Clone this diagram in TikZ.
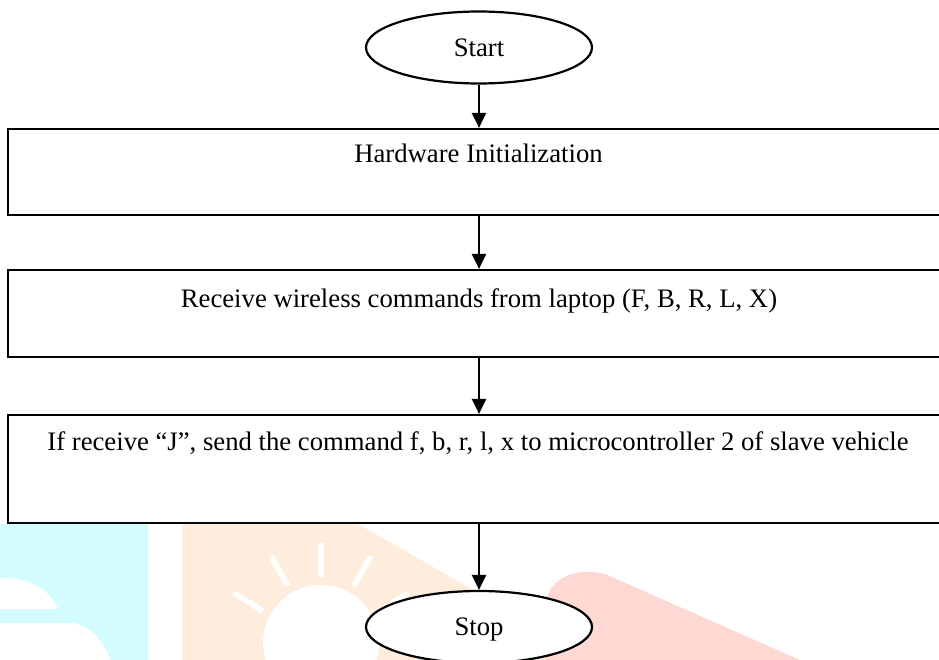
\documentclass[tikz,border=0pt]{standalone}
\usepackage{fontspec}
\setmainfont{Liberation Serif}
\usetikzlibrary{shapes.geometric,arrows.meta}
\definecolor{wmcyan}{RGB}{210,252,253}
\definecolor{wmorange}{RGB}{254,237,220}
\definecolor{wmred}{RGB}{254,217,211}
\begin{document}
\begin{tikzpicture}[x=1pt,y=-1pt,
  every node/.style={font=\fontsize{26.7}{30}\selectfont},
  term/.style={draw, ellipse, fill=white, line width=2.2pt, minimum width=226pt, minimum height=72pt, inner sep=0pt, text height=17.6pt, text depth=0pt},
  procbox/.style={draw, rectangle, fill=white, line width=2.2pt, minimum width=942pt, inner sep=0pt},
  boxtext/.style={anchor=base, inner sep=0pt},
  flow/.style={line width=2.2pt, -{Triangle[length=15pt,width=14pt]}},
  ray/.style={white, line width=5.5pt}
]
\useasboundingbox (0,0) rectangle (939,660);
\clip (0,0) rectangle (939,660);
% watermark
\fill[wmcyan] (0,524) rectangle (148,660);
\fill[white] (0,578) .. controls (30,577) and (50,590) .. (58,609) -- (0,609) -- cycle;
\fill[white] (0,623) -- (75,623) .. controls (95,630) and (106,645) .. (110,660) -- (0,660) -- cycle;
\fill[wmorange] (182,524) -- (358,524) -- (596,660) -- (182,660) -- cycle;
\fill[white] (321,643) circle (58);
\draw[ray] (321,543) -- (321,577);
\draw[ray] (271,556) -- (288,586);
\draw[ray] (371,556) -- (354,586);
\draw[ray] (234,593) -- (263,611);
\draw[ray] (408,593) -- (379,611);
\fill[wmred] (546,660) -- (546,605) .. controls (546,580) and (575,566) .. (605,574) -- (800,660) -- cycle;
% flowchart
\node[term] (start) at (479,47.5) {Start};
\node[procbox, minimum height=86pt] (b1) at (479,172) {};
\node[procbox, minimum height=87pt] (b2) at (479,313.5) {};
\node[procbox, minimum height=108pt] (b3) at (479,469) {};
\node[term] (stop) at (479,627) {Stop};
\node[boxtext] (t1) at (478.5,163) {Hardware Initialization};
\node[boxtext] (t2) at (479,307) {Receive wireless commands from laptop (F, B, R, L, X)};
\node[boxtext] (t3) at (478,450) {If receive “J”, send the command f, b, r, l, x to microcontroller 2 of slave vehicle};
\draw[flow] (start.south) -- (b1.north);
\draw[flow] (b1.south) -- (b2.north);
\draw[flow] (b2.south) -- (b3.north);
\draw[flow] (b3.south) -- (stop.north);
\end{tikzpicture}
\end{document}
